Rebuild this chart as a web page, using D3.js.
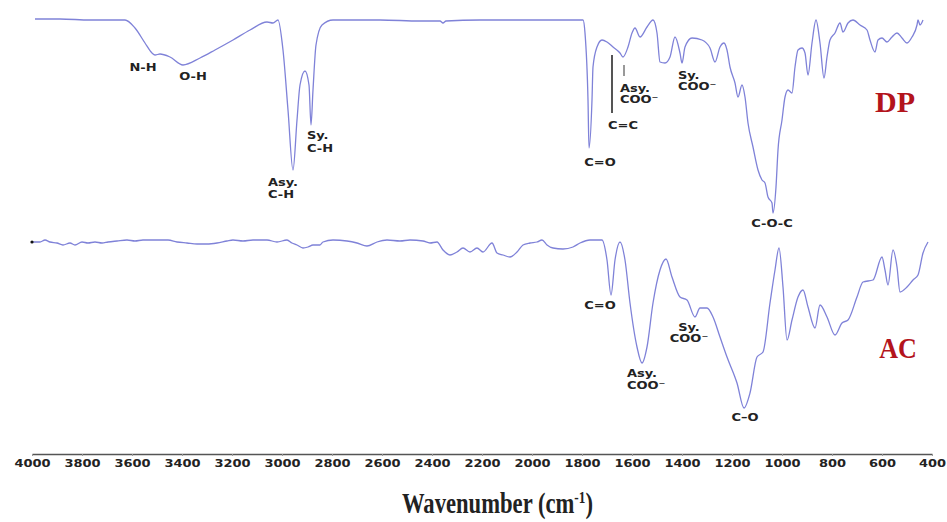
<!DOCTYPE html>
<html>
<head>
<meta charset="utf-8">
<script src="https://cdn.jsdelivr.net/npm/d3@7"></script>
<style>
  body { margin: 0; background: #fff; }
  svg { display: block; }
  .spec { fill: none; stroke: #7f82d8; stroke-width: 1.3; }
  .lbl { font-family: "DejaVu Sans", sans-serif; font-weight: bold; font-size: 10px; fill: #222; }
  .tag { font-family: "Liberation Serif", serif; font-weight: bold; fill: #b3141c; }
  .axis path { stroke: #555; stroke-width: 1.6; }
  .axis line { stroke: #999; }
  .axis text { font-family: "DejaVu Sans", sans-serif; font-weight: bold; font-size: 10px; fill: #222; }
</style>
</head>
<body>
<svg width="947" height="522"></svg>
<script>
// spectra: wavenumber (cm-1) and transmittance (panel %)
var dpWave = [3988,3888,3768,3628,3588,3548,3520,3508,3488,3448,3396,3328,3268,3196,3128,3060,3036,3016,
  2996,2976,2956,2940,2928,2908,2892,2884,2876,2864,2840,2796,2608,2448,2368,2356,2344,2208,2048,1888,
  1796,1788,1776,1772,1760,1756,1740,1720,1700,1676,1648,1636,1616,1600,1588,1568,1540,1516,1500,1488,
  1468,1448,1428,1408,1400,1388,1360,1320,1288,1268,1248,1232,1220,1208,1188,1176,1160,1148,1136,1116,
  1096,1080,1068,1056,1040,1036,1024,1016,1000,988,976,960,948,936,920,908,896,880,864,848,832,820,808,
  788,768,756,736,716,688,660,648,628,616,600,580,560,540,520,500,480,460,456,448,436];
var dpT = [98,98,97.5,97.5,93.5,86,81,80,80.5,79,75,78.5,82.5,87.5,92.5,96.5,96,97.5,
  82.5,52.5,22.5,47.5,65,72,65,45,62.5,85,95,97.5,97.5,97,97,96,97,97.5,97.5,97.5,
  97.5,91,57.5,33.5,57.5,74,84,87.5,86.5,84,81,79,84,91,93.5,89,94,97.5,91,76.5,
  76,79,89,81,76,84,88.5,87.5,83.5,76.5,84,86,82.5,74,66,59,65,59,46,34,
  22.5,17.5,16,9,6,1,14,32.5,47.5,59,62.5,61,74,82.5,83.5,81,70,86,97.5,86,68.5,79,87.5,
  91,96,91.5,96,97.5,95,92.5,87.5,81.5,87.5,88.5,86.5,89,91,88.5,86,89,95,97.5,95,97.5];

var acWave = [3996,3988,3968,3948,3928,3900,3876,3848,3828,3800,3776,3748,3720,3696,3660,3620,3588,3556,
  3520,3488,3456,3420,3380,3340,3300,3260,3220,3196,3156,3116,3060,3020,2980,2960,2940,2916,2896,2876,
  2848,2836,2796,2740,2700,2660,2620,2580,2528,2488,2436,2408,2380,2356,2328,2300,2276,2248,2220,2196,
  2160,2140,2116,2088,2060,2036,2008,1980,1960,1940,1916,1876,1836,1808,1768,1720,1700,1684,1668,1648,
  1628,1608,1580,1560,1540,1516,1488,1464,1440,1408,1380,1348,1328,1300,1276,1248,1220,1180,1152,1128,
  1100,1076,1048,1028,1012,996,980,960,936,916,896,868,848,820,788,760,736,700,676,636,600,588,576,
  556,540,528,500,476,456,436,416];
var acT = [99,99,99,100,99,98.5,97.5,98.5,97.5,99,98.5,99,98.5,99,99.5,100,99.5,100,
  100,100,100,99,98.5,98,98,98.5,99.5,100,99.5,100,100,99,100,98.5,97.5,96,96.5,97.5,
  97.5,99,100,99.5,98.5,97,99,100,99.5,100,99.5,98.5,99,95,92.5,94,96,94,96,94,
  98.5,93.5,92.5,91.5,94,97.5,98.5,99,100,97.5,96,95.5,96.5,98.5,100,100,90,72.5,90,99,
  90,68.5,46.5,38.5,46.5,68.5,85,90.5,81.5,71.5,70,61.5,66,66,61.5,51.5,41.5,28.5,16,23.5,
  41.5,44,68.5,85,96,76.5,50,60,71.5,75,66.5,56,67.5,61.5,52.5,58.5,60,71.5,79,80,91.5,85,77.5,
  95,86.5,74,76.5,80,82.5,93.5,99];

var tickValues = [4000,3800,3600,3400,3200,3000,2800,2600,2400,2200,2000,1800,1600,1400,1200,1000,800,600,400];

// peak labels: wavenumber, transmittance (baseline), text, anchor
var dpLabels = [
  [3556, 72.25, "N-H", "middle"],
  [3356, 67.75, "O-H", "middle"],
  [2900, 38.25, "Sy.", "start"],
  [2900, 31.75, "C-H", "start"],
  [3056, 14.75, "Asy.", "start"],
  [3056, 8.75, "C-H", "start"],
  [1728, 24.75, "C=O", "middle"],
  [1636, 43.25, "C=C", "middle"],
  [1648, 61.75, "Asy.", "start"],
  [1648, 56.25, "COO\u207B", "start"],
  [1416, 68.25, "Sy.", "start"],
  [1416, 62.75, "COO\u207B", "start"],
  [1040, -5.75, "C-O-C", "middle"]
];
var acLabels = [
  [1728, 65.75, "C=O", "middle"],
  [1372, 54.75, "Sy.", "middle"],
  [1372, 49.25, "COO\u207B", "middle"],
  [1620, 31.75, "Asy.", "start"],
  [1620, 25.75, "COO\u207B", "start"],
  [1148, 9.75, "C\u2013O", "middle"]
];
// marker bars under the DP C=C and Asy. COO- labels: wavenumber, top, bottom, width
var dpMarkers = [[1680, 80, 51, 2], [1632, 75, 69.5, 1.2]];

var svg = d3.select("svg"),
    width = +svg.attr("width"),
    height = +svg.attr("height");

var x = d3.scaleLinear().domain([4000, 400]).range([32, 932]);
var yDP = d3.scaleLinear().domain([0, 100]).range([215, 15]);
var yAC = d3.scaleLinear().domain([0, 100]).range([440, 240]);

function drawSpectrum(wave, t, y) {
  var pts = wave.map(function(w, i) { return [w, t[i]]; });
  var line = d3.line()
      .x(function(d) { return x(d[0]); })
      .y(function(d) { return y(d[1]); })
      .curve(d3.curveMonotoneX);
  svg.append("path").datum(pts).attr("class", "spec").attr("d", line);
}

drawSpectrum(dpWave, dpT, yDP);
drawSpectrum(acWave, acT, yAC);

svg.append("circle")
    .attr("cx", x(acWave[0]) - 1).attr("cy", yAC(acT[0]))
    .attr("r", 1.6).attr("fill", "#111");

svg.selectAll(".mark").data(dpMarkers).enter().append("line")
    .attr("x1", function(d) { return x(d[0]); })
    .attr("x2", function(d) { return x(d[0]); })
    .attr("y1", function(d) { return yDP(d[1]); })
    .attr("y2", function(d) { return yDP(d[2]); })
    .attr("stroke", "#555")
    .attr("stroke-width", function(d) { return d[3]; });

function drawLabels(list, y) {
  svg.append("g").selectAll("text").data(list).enter().append("text")
      .attr("class", "lbl")
      .attr("text-anchor", function(d) { return d[3]; })
      .attr("transform", function(d) { return "translate(" + x(d[0]) + "," + y(d[1]) + ") scale(1.3,1)"; })
      .text(function(d) { return d[2]; });
}
drawLabels(dpLabels, yDP);
drawLabels(acLabels, yAC);

svg.append("text").attr("class", "tag")
    .attr("text-anchor", "middle").attr("font-size", 30)
    .attr("transform", "translate(" + x(548) + "," + yDP(51.5) + ")")
    .text("DP");
svg.append("text").attr("class", "tag")
    .attr("text-anchor", "middle").attr("font-size", 29)
    .attr("transform", "translate(" + x(536) + "," + yAC(41) + ") scale(0.9,1)")
    .text("AC");

var axis = d3.axisBottom(x)
    .tickValues(tickValues)
    .tickFormat(d3.format("d"))
    .tickSizeInner(2)
    .tickSizeOuter(0)
    .tickPadding(4);

var gx = svg.append("g").attr("class", "axis")
    .attr("transform", "translate(0,454)")
    .call(axis);
gx.selectAll("text").attr("transform", "scale(1.3,1)");

var title = svg.append("text")
    .attr("transform", "translate(402,513) scale(0.78,1)")
    .attr("font-family", "Liberation Serif, serif")
    .attr("font-weight", "bold")
    .attr("font-size", 29)
    .attr("fill", "#222");
title.append("tspan").text("Wavenumber (cm");
title.append("tspan").attr("font-size", 17).attr("dy", -10).text("-1");
title.append("tspan").attr("dy", 10).text(")");
</script>
</body>
</html>
